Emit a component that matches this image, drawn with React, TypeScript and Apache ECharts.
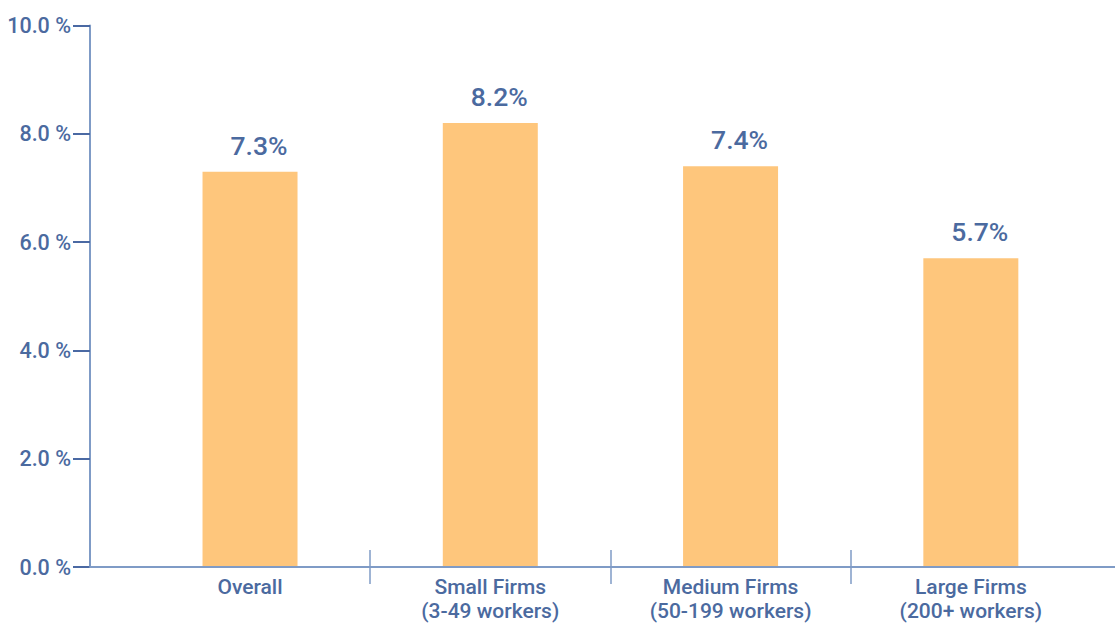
import React, { useEffect, useRef } from "react";
import * as echarts from "echarts";

const categories = [
  "Overall",
  "Small Firms\n(3-49 workers)",
  "Medium Firms\n(50-199 workers)",
  "Large Firms\n(200+ workers)",
];
const values = [7.3, 8.2, 7.4, 5.7];
const categoryPositions = [0, 1, 2, 3];
const separatorPositions = [0.5, 1.5, 2.5];

const TEXT = "#4b6a9f";
const AXIS = "#7f9bc6";
const TICK = "#4a69a3";
const BAR = "#fec67c";
const FONT = "Roboto, 'Noto Sans', sans-serif";

export default function App() {
  const ref = useRef<HTMLDivElement>(null);

  useEffect(() => {
    if (!ref.current) return;
    const chart = echarts.init(ref.current, null, { renderer: "svg" });
    const xCommon = {
      type: "value" as const,
      min: -0.666,
      max: 3.6,
      position: "bottom" as const,
      splitLine: { show: false },
    };
    chart.setOption({
      animation: false,
      backgroundColor: "#ffffff",
      grid: { left: 90, right: 0, top: 25.5, bottom: 55.5, containLabel: false },
      xAxis: [
        {
          ...xCommon,
          z: 3,
          axisLine: { show: true, onZero: false, lineStyle: { color: AXIS, width: 2 } },
          axisTick: {
            show: true,
            customValues: separatorPositions,
            length: 17,
            lineStyle: { color: AXIS, width: 1.5 },
          },
          axisLabel: {
            show: true,
            customValues: categoryPositions,
            formatter: (v: number) => categories[Math.round(v)] ?? "",
            color: TEXT,
            fontFamily: FONT,
            fontSize: 21,
            fontWeight: 500,
            lineHeight: 24,
            margin: 8,
          },
        },
        {
          ...xCommon,
          z: 3,
          axisLine: { show: false, onZero: false },
          axisTick: {
            show: true,
            inside: true,
            customValues: separatorPositions,
            length: 17,
            lineStyle: { color: AXIS, width: 1.5 },
          },
          axisLabel: { show: false },
        },
      ],
      yAxis: {
        type: "value",
        min: 0,
        max: 10,
        interval: 2,
        axisLine: { show: true, onZero: false, lineStyle: { color: AXIS, width: 2 } },
        axisTick: { show: true, length: 17, lineStyle: { color: TICK, width: 2 } },
        splitLine: { show: false },
        axisLabel: {
          formatter: (v: number) => v.toFixed(1) + " %",
          color: TEXT,
          fontFamily: FONT,
          fontSize: 21.5,
          fontWeight: 500,
          margin: 19,
        },
      },
      series: [
        {
          type: "bar",
          xAxisIndex: 0,
          data: values.map((v, i) => [categoryPositions[i], v]),
          barWidth: 95,
          itemStyle: { color: BAR },
          label: {
            show: true,
            position: "top",
            distance: 13,
            offset: [9, 0],
            formatter: (p: any) => p.value[1].toFixed(1) + "%",
            color: TEXT,
            fontFamily: FONT,
            fontSize: 26.5,
            fontWeight: 500,
          },
        },
      ],
    });
    return () => chart.dispose();
  }, []);

  return (
    <div
      ref={ref}
      style={{ position: "absolute", left: 0, top: 0, width: 1115, height: 623 }}
    />
  );
}
